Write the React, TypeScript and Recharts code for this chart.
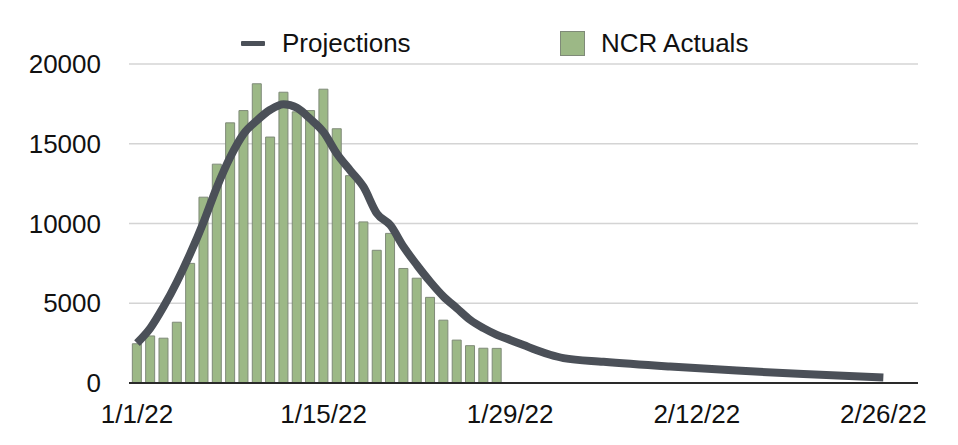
import {
  Bar,
  CartesianGrid,
  ComposedChart,
  Line,
  XAxis,
  YAxis,
} from 'recharts'

// NCR daily actuals, one value per day starting 1/1/22
const actuals = [
  2460, 2950, 2810, 3810, 7500, 11650, 13720, 16310, 17080, 18760,
  15420, 18230, 17000, 17080, 18420, 15940, 13000, 10100, 8320, 9380,
  7180, 6570, 5370, 3940, 2690, 2340, 2180, 2170,
]

// Projection curve: daily points for the wave, sparser points on the tail
const projectionDays = [
  0, 1, 2, 3, 4, 5, 6, 7, 8, 9, 10, 11, 12, 13, 14, 15, 16,
  17, 18, 19, 20, 21, 22, 23, 24, 25, 26, 27, 28, 29, 30, 31, 32,
  35, 40, 45, 50, 56,
]
const projectionValues = [
  2500, 3440, 4790, 6350, 8125, 10100, 12290, 14170, 15625, 16460, 17130, 17480, 17250, 16560, 15730, 14375, 13330,
  12290, 10625, 9900, 8540, 7400, 6350, 5420, 4690, 3960, 3440, 3020, 2700, 2380, 2050, 1770, 1560,
  1330, 1030, 780, 560, 350,
]

const tickDays = [0, 14, 28, 42, 56]
const tickLabels = ['1/1/22', '1/15/22', '1/29/22', '2/12/22', '2/26/22']
const yTicks = [0, 5000, 10000, 15000, 20000]

const LAST_DAY = 56

const FONT = '"Liberation Sans", Arial, Helvetica, sans-serif'
const LINE_COLOR = '#4b5058'
const BAR_FILL = '#9cb886'
const BAR_STROKE = '#7f8a78'

const rows = Array.from({ length: LAST_DAY + 1 }, (_, day) => {
  const pIdx = projectionDays.indexOf(day)
  return {
    day,
    actual: day < actuals.length ? actuals[day] : null,
    projection: pIdx >= 0 ? projectionValues[pIdx] : null,
  }
})

// Legend sits over the chart so it doesn't eat into the plot's top margin
function LegendOverlay() {
  return (
    <div
      style={{
        position: 'absolute',
        left: 0,
        top: 28,
        width: 958,
        height: 30,
        fontFamily: FONT,
        fontSize: 26,
        color: '#111',
      }}
    >
      <div style={{ position: 'absolute', left: 241, top: 13, width: 24, height: 5, background: LINE_COLOR, borderRadius: 1 }} />
      <span style={{ position: 'absolute', left: 282, top: 0, lineHeight: '30px' }}>Projections</span>
      <div
        style={{
          position: 'absolute',
          left: 560,
          top: 3,
          width: 23,
          height: 23,
          background: BAR_FILL,
          border: `1px solid ${BAR_STROKE}`,
        }}
      />
      <span style={{ position: 'absolute', left: 601, top: 0, lineHeight: '30px' }}>NCR Actuals</span>
    </div>
  )
}

export default function App() {
  return (
    <div style={{ position: 'absolute', left: 0, top: 0, width: 958, height: 445, background: '#fff' }}>
      <ComposedChart
        width={958}
        height={445}
        data={rows}
        margin={{ top: 64, right: 40, bottom: 32, left: 0 }}
      >
        <CartesianGrid stroke="#d4d4d4" strokeWidth={1.5} vertical={false} />
        <XAxis
          dataKey="day"
          type="number"
          domain={[-0.6, 58.6]}
          ticks={tickDays}
          height={30}
          tickFormatter={(v: number) => tickLabels[tickDays.indexOf(v)] ?? ''}
          tick={{ fontSize: 26, fill: '#111', fontFamily: FONT }}
          tickLine={false}
          tickSize={0}
          tickMargin={22}
          axisLine={{ stroke: '#2a2a2a', strokeWidth: 2 }}
          allowDataOverflow
        />
        <YAxis
          domain={[0, 20000]}
          ticks={yTicks}
          width={129}
          tick={{ fontSize: 26, fill: '#111', fontFamily: FONT }}
          tickLine={false}
          tickSize={0}
          tickMargin={28}
          axisLine={false}
        />
        <Bar
          dataKey="actual"
          name="NCR Actuals"
          fill={BAR_FILL}
          stroke={BAR_STROKE}
          strokeWidth={1}
          barSize={9}
          isAnimationActive={false}
        />
        <Line
          dataKey="projection"
          name="Projections"
          type="monotone"
          stroke={LINE_COLOR}
          strokeWidth={8}
          strokeLinejoin="round"
          dot={false}
          activeDot={false}
          connectNulls
          isAnimationActive={false}
        />
      </ComposedChart>
      <LegendOverlay />
    </div>
  )
}
